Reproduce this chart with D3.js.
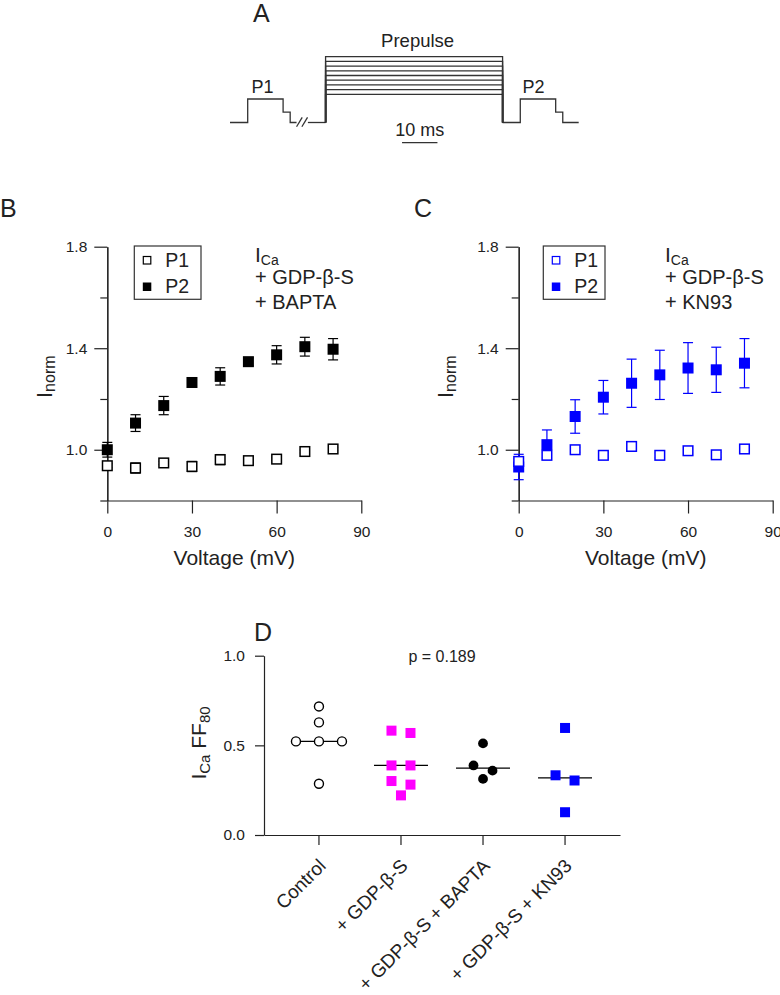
<!DOCTYPE html>
<html>
<head>
<meta charset="utf-8">
<script src="https://cdn.jsdelivr.net/npm/d3@7"></script>
<style>
  body { margin: 0; background: #fff; }
  svg { display: block; font-family: Arial, "Liberation Sans", sans-serif; }
</style>
</head>
<body>
<div id="figure"></div>
<script>
// ---- panel A: voltage protocol (time in ms, level in mV, schematic) ----
const prepulseLevels = [0, 10, 20, 30, 40, 50, 60, 70, 80];
const p1Wave = [[0, -60], [5, -60], [5, -10], [15, -10], [15, -38], [17, -38], [17, -60], [18.8, -60]];
const holdWave = [[22, -60], [27, -60]];
const p2Wave = [[77, -60], [82, -60], [82, -10], [92, -10], [92, -38], [94, -38], [94, -60], [98.5, -60]];
const breakMarks = [[[18.8, -69], [20.4, -49]], [[20.3, -69], [21.9, -49]]];
const prepulseOn = 27, prepulseOff = 77;
const scaleBarMs = [48.6, 58.6];

// ---- panels B and C: I-V of normalized current ----
const voltages = [0, 10, 20, 30, 40, 50, 60, 70, 80];
const bP1 = [0.937, 0.928, 0.948, 0.934, 0.961, 0.957, 0.963, 0.993, 1.003];
const bP1Err = [0.008, 0.02, 0.006, 0.02, 0.02, 0.006, 0.006, 0.006, 0.006];
const bP2 = [1.0, 1.105, 1.174, 1.265, 1.289, 1.347, 1.374, 1.406, 1.396];
const bP2Err = [0.029, 0.033, 0.036, 0.015, 0.034, 0.015, 0.036, 0.037, 0.042];
const cP1 = [0.954, 0.978, 1.0, 0.978, 1.013, 0.978, 0.996, 0.98, 1.003];
const cP1Err = [0.01, 0.01, 0.01, 0.01, 0.01, 0.01, 0.01, 0.01, 0.01];
const cP2 = [0.932, 1.020, 1.131, 1.207, 1.262, 1.295, 1.322, 1.315, 1.341];
const cP2Err = [0.050, 0.058, 0.066, 0.066, 0.095, 0.097, 0.100, 0.089, 0.097];
const ivYTicks = [1.0, 1.4, 1.8];
const ivYMinor = [0.8, 1.2, 1.6];
const ivXTicks = [0, 30, 60, 90];

// ---- panel D: ICa FF80 per condition ----
const groups = ["Control", "+ GDP-β-S", "+ GDP-β-S + BAPTA", "+ GDP-β-S + KN93"];
const controlFF = [0.717, 0.628, 0.522, 0.522, 0.522, 0.286];
const gdpFF = [0.582, 0.569, 0.388, 0.388, 0.301, 0.281, 0.221];
const baptaFF = [0.511, 0.388, 0.359, 0.313];
const kn93FF = [0.597, 0.333, 0.304, 0.127];
const ffTicks = [0, 0.5, 1.0];
const pText = "p = 0.189";

const ink = "#222";
const blue = "#0000ff";

let svg = d3.select("#figure")
  .append("svg")
  .attr("width", 780)
  .attr("height", 995);

function styleAxis(g, size) {
  g.selectAll("path, line").attr("stroke", ink).attr("stroke-width", 1.2);
  g.selectAll("text")
    .style("font-size", size + "px")
    .style("font-family", "Arial, 'Liberation Sans', sans-serif")
    .attr("fill", ink);
}

// text with subscripts: parts = [[string, size, dy]]
function richText(g, parts, transform, anchor) {
  let t = g.append("text")
    .attr("transform", transform)
    .attr("text-anchor", anchor || "start")
    .attr("fill", ink);
  parts.forEach(p => {
    t.append("tspan").style("font-size", p[1] + "px").attr("dy", p[2] || 0).text(p[0]);
  });
  return t;
}

function panelLetter(x, y, s) {
  svg.append("text").attr("x", x).attr("y", y)
    .style("font-size", "25px").attr("fill", ink).text(s);
}

// ================= A =================
drawProtocol();

function drawProtocol() {
  let t = d3.scaleLinear().domain([0, 100]).range([230, 584]);
  let v = d3.scaleLinear().domain([0, 80]).range([94.3, 56.7]);
  let line = d3.line().x(d => t(d[0])).y(d => v(d[1]));
  let g = svg.append("g")
    .attr("fill", "none")
    .attr("stroke", "#333")
    .attr("stroke-width", 1.3);

  g.append("path").attr("d", line(p1Wave));
  g.append("path").attr("d", line(holdWave));
  g.append("path").attr("d", line(p2Wave));
  breakMarks.forEach(m => g.append("path").attr("d", line(m)));
  prepulseLevels.forEach(lv => {
    g.append("path").attr("d", line([[prepulseOn, -60], [prepulseOn, lv], [prepulseOff, lv], [prepulseOff, -60]]));
  });
  g.append("path").attr("d", line([[scaleBarMs[0], -103], [scaleBarMs[1], -103]]));

  svg.append("text").attr("x", t((prepulseOn + prepulseOff) / 2 + 1)).attr("y", 46.5)
    .attr("text-anchor", "middle").style("font-size", "18.5px").attr("fill", ink).text("Prepulse");
  svg.append("text").attr("x", t(6.1)).attr("y", 92.5)
    .style("font-size", "18px").attr("fill", ink).text("P1");
  svg.append("text").attr("x", t(82.6)).attr("y", 92.5)
    .style("font-size", "18px").attr("fill", ink).text("P2");
  svg.append("text").attr("x", t((scaleBarMs[0] + scaleBarMs[1]) / 2)).attr("y", 136)
    .attr("text-anchor", "middle").style("font-size", "18px").attr("fill", ink).text("10 ms");
}
panelLetter(253, 22, "A");

// ================= B & C =================
drawIV({left: 107.3, color: "#000", p1: bP1, p1Err: bP1Err, p2: bP2, p2Err: bP2Err,
  labelX: 52, legendLeft: 134.3, legendRight: 201, annoX: 255,
  anno: ["+ GDP-β-S", "+ BAPTA"]});
drawIV({left: 518.7, color: blue, p1: cP1, p1Err: cP1Err, p2: cP2, p2Err: cP2Err,
  labelX: 453, legendLeft: 543.3, legendRight: 605, annoX: 665,
  anno: ["+ GDP-β-S", "+ KN93"]});
panelLetter(0, 217, "B");
panelLetter(414, 217, "C");

function drawIV(cfg) {
  let x = d3.scaleLinear().domain([0, 90]).range([cfg.left, cfg.left + 254]);
  let y = d3.scaleLinear().domain([0.8, 1.8]).range([500.5, 246.7]);

  // Add Y axis (major + minor ticks)
  let ya = svg.append("g")
    .attr("transform", "translate(" + cfg.left + ",0)")
    .call(d3.axisLeft(y).tickValues(ivYTicks).tickSize(13).tickSizeOuter(0)
      .tickPadding(7).tickFormat(d3.format(".1f")));
  styleAxis(ya, 15.5);
  let ym = svg.append("g")
    .attr("transform", "translate(" + cfg.left + ",0)")
    .call(d3.axisLeft(y).tickValues(ivYMinor).tickSize(7).tickSizeOuter(0).tickFormat(""));
  styleAxis(ym, 15.5);

  // Add X axis
  let xa = svg.append("g")
    .attr("transform", "translate(0,500.5)")
    .call(d3.axisBottom(x).tickValues(ivXTicks).tickSize(13).tickSizeOuter(0).tickPadding(12.5));
  styleAxis(xa, 15.5);

  svg.append("text")
    .attr("x", (x.range()[0] + x.range()[1]) / 2)
    .attr("y", 565)
    .attr("text-anchor", "middle")
    .style("font-size", "21px")
    .attr("fill", ink)
    .text("Voltage (mV)");

  richText(svg, [["I", 22, 0], ["norm", 16, 3]],
    "translate(" + cfg.labelX + ",398) rotate(-90)");

  let pts = voltages.map((vv, i) => ({v: vv, p1: cfg.p1[i], e1: cfg.p1Err[i], p2: cfg.p2[i], e2: cfg.p2Err[i]}));

  // error bars
  let eb = svg.append("g").attr("stroke", cfg.color).attr("stroke-width", 1.2);
  [["p2", "e2"], ["p1", "e1"]].forEach(k => {
    pts.forEach(d => {
      let cx = x(d.v), lo = y(d[k[0]] - d[k[1]]), hi = y(d[k[0]] + d[k[1]]);
      eb.append("line").attr("x1", cx).attr("x2", cx).attr("y1", lo).attr("y2", hi);
      eb.append("line").attr("x1", cx - 5).attr("x2", cx + 5).attr("y1", lo).attr("y2", lo);
      eb.append("line").attr("x1", cx - 5).attr("x2", cx + 5).attr("y1", hi).attr("y2", hi);
    });
  });

  // P2 filled squares
  svg.append("g").selectAll("rect")
    .data(pts)
    .enter()
    .append("rect")
    .attr("x", d => x(d.v) - 5.5)
    .attr("y", d => y(d.p2) - 5.5)
    .attr("width", 11)
    .attr("height", 11)
    .attr("fill", cfg.color);

  // P1 open squares
  svg.append("g").selectAll("rect")
    .data(pts)
    .enter()
    .append("rect")
    .attr("x", d => x(d.v) - 4.8)
    .attr("y", d => y(d.p1) - 4.8)
    .attr("width", 9.6)
    .attr("height", 9.6)
    .attr("fill", "#fff")
    .attr("stroke", cfg.color)
    .attr("stroke-width", 1.5);

  // legend
  let lg = svg.append("g");
  lg.append("rect")
    .attr("x", cfg.legendLeft).attr("y", 246)
    .attr("width", cfg.legendRight - cfg.legendLeft).attr("height", 53.3)
    .attr("fill", "none").attr("stroke", "#333").attr("stroke-width", 1.2);
  lg.append("rect").attr("x", cfg.legendLeft + 9).attr("y", 256.5).attr("width", 7.5).attr("height", 7.5)
    .attr("fill", "#fff").attr("stroke", cfg.color).attr("stroke-width", 1.2);
  lg.append("rect").attr("x", cfg.legendLeft + 8.5).attr("y", 282.5).attr("width", 8.5).attr("height", 8.5)
    .attr("fill", cfg.color);
  lg.append("text").attr("x", cfg.legendLeft + 31).attr("y", 267)
    .style("font-size", "19.5px").attr("fill", ink).text("P1");
  lg.append("text").attr("x", cfg.legendLeft + 31).attr("y", 293)
    .style("font-size", "19.5px").attr("fill", ink).text("P2");

  // annotation
  richText(svg, [["I", 21, 0], ["Ca", 14, 3]], "translate(" + cfg.annoX + ",261.5)");
  cfg.anno.forEach((s, i) => {
    svg.append("text").attr("x", cfg.annoX).attr("y", 284 + i * 24.5)
      .style("font-size", "20px").attr("fill", ink).text(s);
  });
}

// ================= D =================
drawScatter();
panelLetter(254, 641, "D");

function drawScatter() {
  let sets = [
    {vals: controlFF, shape: "circle", fill: "#fff", stroke: "#000", spread: 23},
    {vals: gdpFF, shape: "square", fill: "#ff00ff", stroke: "none", spread: 19},
    {vals: baptaFF, shape: "circle", fill: "#000", stroke: "none", spread: 19},
    {vals: kn93FF, shape: "square", fill: blue, stroke: "none", spread: 19}
  ];
  let x = d3.scaleBand().domain(groups).range([264, 620]).paddingInner(0).paddingOuter(0.17);
  let y = d3.scaleLinear().domain([0, 1]).range([835, 655.7]);

  let ya = svg.append("g")
    .attr("transform", "translate(264,0)")
    .call(d3.axisLeft(y).tickValues(ffTicks).tickSize(9).tickSizeOuter(0)
      .tickPadding(10).tickFormat(d3.format(".1f")));
  styleAxis(ya, 15.5);

  let xa = svg.append("g")
    .attr("transform", "translate(0,835)")
    .call(d3.axisBottom(x).tickSize(10).tickSizeOuter(0));
  styleAxis(xa, 19);
  xa.selectAll("text")
    .attr("x", 0).attr("y", 0).attr("dy", 0)
    .attr("text-anchor", "end")
    .attr("transform", "translate(8,32) rotate(-45)");

  richText(svg, [["I", 21, 0], ["Ca", 15, 4], [" FF", 21, -4], ["80", 15, 4]],
    "translate(206,743) rotate(-90)", "middle");

  svg.append("text")
    .attr("x", (x(groups[1]) + x(groups[2])) / 2 + x.bandwidth() / 2)
    .attr("y", 661.5)
    .attr("text-anchor", "middle")
    .style("font-size", "16px")
    .attr("fill", ink)
    .text(pText);

  sets.forEach((s, gi) => {
    let cx = x(groups[gi]) + x.bandwidth() / 2;
    let med = d3.median(s.vals);
    svg.append("line")
      .attr("x1", cx - 27).attr("x2", cx + 27)
      .attr("y1", y(med)).attr("y2", y(med))
      .attr("stroke", "#000").attr("stroke-width", 1.2);

    // rows of nearly equal values are spread side by side, centred on the column
    let sorted = s.vals.slice().sort((a, b) => b - a);
    let rows = [];
    sorted.forEach(v => {
      let last = rows[rows.length - 1];
      if (last && y(v) - y(last[0]) < 8) last.push(v);
      else rows.push([v]);
    });
    let placed = [];
    rows.forEach(r => r.forEach((v, k) => {
      placed.push({v: v, px: cx + (k - (r.length - 1) / 2) * s.spread});
    }));

    let g = svg.append("g");
    if (s.shape === "circle") {
      g.selectAll("circle").data(placed).enter().append("circle")
        .attr("cx", d => d.px).attr("cy", d => y(d.v))
        .attr("r", s.stroke === "none" ? 4.9 : 4.5)
        .attr("fill", s.fill)
        .attr("stroke", s.stroke)
        .attr("stroke-width", 1.4);
    } else {
      g.selectAll("rect").data(placed).enter().append("rect")
        .attr("x", d => d.px - 5).attr("y", d => y(d.v) - 5)
        .attr("width", 10).attr("height", 10)
        .attr("fill", s.fill);
    }
  });
}
</script>
</body>
</html>
